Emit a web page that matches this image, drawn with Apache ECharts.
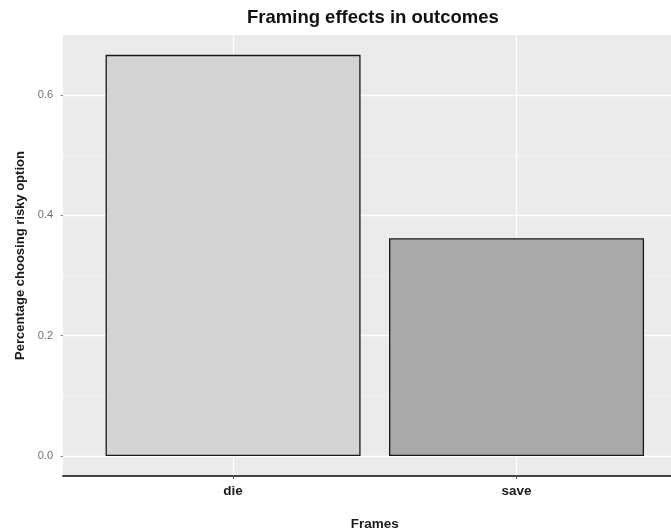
<!DOCTYPE html>
<html>
<head>
<meta charset="utf-8">
<script src="https://cdn.jsdelivr.net/npm/echarts@6/dist/echarts.min.js"></script>
<style>
  html, body { margin: 0; padding: 0; background: #ffffff; overflow: hidden; }
  #chart { width: 671px; height: 531px; }
</style>
</head>
<body>
<div id="chart"></div>
<script>
// ---- data ----
const categories = ['die', 'save'];
const riskyShare = [0.667, 0.362];
const yMajorTicks = [0, 0.2, 0.4, 0.6];
const yMinorTicks = [0.1, 0.3, 0.5];
const barColors = ['#d3d3d3', '#a9a9a9'];

const catPositions = categories.map((c, i) => i + 1);

const chart = echarts.init(document.getElementById('chart'), null, { renderer: 'canvas' });
const font = "'Liberation Sans', Arial, Helvetica, sans-serif";

chart.setOption({
  backgroundColor: '#ffffff',
  animation: false,
  title: {
    text: 'Framing effects in outcomes',
    left: 247,
    top: 8,
    padding: 0,
    textStyle: { fontFamily: font, fontSize: 18.5, fontWeight: 'bold', color: '#111111' }
  },
  grid: {
    left: 63,
    width: 623.6,
    top: 35,
    height: 441,
    show: true,
    backgroundColor: '#ebebeb',
    borderWidth: 0,
    containLabel: false,
    outerBoundsMode: 'none'
  },
  xAxis: {
    type: 'value',
    min: 0.4,
    max: 2.6,
    name: 'Frames',
    nameLocation: 'middle',
    nameGap: 41,
    nameTextStyle: { fontFamily: font, fontSize: 13.5, fontWeight: 'bold', color: '#1a1a1a' },
    axisLine: { show: true, onZero: false, lineStyle: { color: '#444444', width: 2 } },
    axisTick: { show: true, length: 3, customValues: catPositions, lineStyle: { color: '#555555', width: 1 } },
    axisLabel: {
      customValues: catPositions,
      margin: 8,
      fontFamily: font, fontSize: 13.5, fontWeight: 'bold', color: '#1a1a1a',
      formatter: v => categories[Math.round(v) - 1] || ''
    },
    splitLine: { show: true, lineStyle: { color: '#ffffff', width: 1.3 } }
  },
  yAxis: [
    {
      type: 'value',
      min: -0.0333,
      max: 0.7,
      name: 'Percentage choosing risky option',
      nameLocation: 'middle',
      nameGap: 33,
      nameTextStyle: { fontFamily: font, fontSize: 13, fontWeight: 'bold', color: '#1a1a1a' },
      axisLine: { show: false },
      axisTick: { show: true, length: 2.5, customValues: yMajorTicks, lineStyle: { color: '#888888', width: 1 } },
      axisLabel: {
        customValues: yMajorTicks,
        margin: 10,
        fontFamily: font, fontSize: 11, color: '#6e6e6e',
        formatter: v => v.toFixed(1)
      },
      splitLine: { show: true, lineStyle: { color: '#ffffff', width: 1.3 } }
    },
    {
      type: 'value',
      min: -0.0333,
      max: 0.7,
      position: 'left',
      axisLine: { show: false },
      axisTick: { show: false, customValues: yMinorTicks },
      axisLabel: { show: false, customValues: yMinorTicks },
      splitLine: { show: true, lineStyle: { color: '#f6f6f6', width: 0.7 } }
    }
  ],
  series: [{
    type: 'bar',
    xAxisIndex: 0,
    yAxisIndex: 0,
    barWidth: 255,
    data: categories.map((c, i) => ({
      value: [catPositions[i], riskyShare[i]],
      itemStyle: { color: barColors[i] }
    })),
    itemStyle: { borderColor: '#1a1a1a', borderWidth: 1.3 }
  }]
});
</script>
</body>
</html>
